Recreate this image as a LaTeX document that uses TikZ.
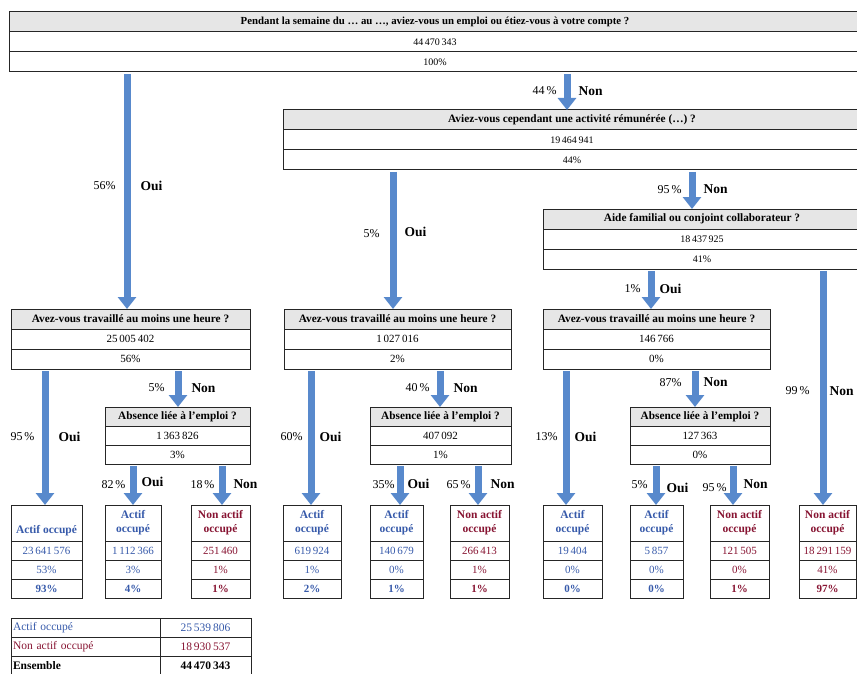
\documentclass[tikz,border=0pt]{standalone}
\usepackage{fontspec}
\setmainfont{Liberation Serif}
\usetikzlibrary{positioning,arrows.meta}

\definecolor{headgray}{RGB}{230,230,230}
\definecolor{flowblue}{RGB}{88,137,204}
\definecolor{actblue}{RGB}{55,90,170}
\definecolor{nonred}{RGB}{135,20,50}

% three-row question box: name, x, y, width, row height, question, count, share
\newcommand{\qbox}[8]{%
  \node[qhead,minimum width=#4,minimum height=#5] (#1) at (#2,#3) {#6};
  \node[qrow,minimum width=#4,minimum height=#5,below=0pt of #1] (#1n) {#7};
  \node[qrow,minimum width=#4,minimum height=#5,below=0pt of #1n] (#1p) {#8};
}
% result box: name, x, width, colour, label, count, share, total
\newcommand{\leafbox}[8]{%
  \node[lhead,text=#4,minimum width=#3] (#1) at (#2,505) {#5};
  \node[lrow,text=#4,minimum width=#3,below=0pt of #1] (#1n) {#6};
  \node[lrow,text=#4,minimum width=#3,below=0pt of #1n] (#1p) {#7};
  \node[lrow,text=#4,minimum width=#3,font=\fontsize{11}{12}\selectfont\bfseries,below=0pt of #1p] (#1t) {#8};
}

\begin{document}
\begin{tikzpicture}[x=1pt,y=-1pt,
    cell/.style={draw=black!85,line width=1pt,outer sep=0pt,inner sep=1pt,align=center},
    qhead/.style={cell,fill=headgray,anchor=north west,font=\fontsize{11.3}{12}\selectfont\bfseries},
    qrow/.style={cell,font=\fontsize{10}{11}\selectfont},
    lhead/.style={cell,anchor=north west,minimum height=36pt,font=\fontsize{11.5}{14}\selectfont\bfseries},
    lrow/.style={cell,minimum height=19pt,font=\fontsize{11}{12}\selectfont},
    srow/.style={cell,anchor=north west,minimum height=19pt,font=\fontsize{11.5}{12}\selectfont},
    flow/.style={line width=7pt,draw=flowblue,shorten <=2pt,-{Triangle[width=18pt,length=12pt]}},
    pct/.style={inner sep=1pt,font=\fontsize{12}{14}\selectfont},
    word/.style={inner sep=1pt,font=\fontsize{13.5}{15}\selectfont\bfseries}]
  \useasboundingbox (0,0) rectangle (857,674);

  % questions
  \qbox{q0}{9}{12}{852pt}{20pt}{\fontsize{10.8}{12}\selectfont Pendant la semaine du … au …, aviez-vous un emploi ou étiez-vous à votre compte ?}{44\,470\,343}{100\%}
  \qbox{q1}{283}{110}{578pt}{20pt}{Aviez-vous cependant une activité rémunérée (…) ?}{19\,464\,941}{44\%}
  \qbox{q2}{543}{209}{318pt}{20pt}{Aide familial ou conjoint collaborateur ?}{18\,437\,925}{41\%}
  \tikzset{qrow/.append style={font=\fontsize{11}{12}\selectfont}}
  \qbox{qA}{11}{309}{239pt}{20pt}{Avez-vous travaillé au moins une heure ?}{25\,005\,402}{56\%}
  \qbox{qB}{284}{309}{227pt}{20pt}{Avez-vous travaillé au moins une heure ?}{1\,027\,016}{2\%}
  \qbox{qC}{543}{309}{227pt}{20pt}{Avez-vous travaillé au moins une heure ?}{146\,766}{0\%}
  \qbox{aA}{105}{407}{145pt}{19pt}{Absence liée à l'emploi ?}{1\,363\,826}{3\%}
  \qbox{aB}{370}{407}{141pt}{19pt}{Absence liée à l'emploi ?}{407\,092}{1\%}
  \qbox{aC}{630}{407}{140pt}{19pt}{Absence liée à l'emploi ?}{127\,363}{0\%}

  % results
  \leafbox{r1}{11}{71pt}{actblue}{\strut\\Actif occupé}{23\,641\,576}{53\%}{93\%}
  \leafbox{r2}{105}{56pt}{actblue}{Actif\\occupé}{1\,112\,366}{3\%}{4\%}
  \leafbox{r3}{191}{59pt}{nonred}{Non actif\\occupé}{251\,460}{1\%}{1\%}
  \leafbox{r4}{283}{58pt}{actblue}{Actif\\occupé}{619\,924}{1\%}{2\%}
  \leafbox{r5}{370}{53pt}{actblue}{Actif\\occupé}{140\,679}{0\%}{1\%}
  \leafbox{r6}{450}{59pt}{nonred}{Non actif\\occupé}{266\,413}{1\%}{1\%}
  \leafbox{r7}{543}{59pt}{actblue}{Actif\\occupé}{19\,404}{0\%}{0\%}
  \leafbox{r8}{630}{53pt}{actblue}{Actif\\occupé}{5\,857}{0\%}{0\%}
  \leafbox{r9}{710}{59pt}{nonred}{Non actif\\occupé}{121\,505}{0\%}{1\%}
  \leafbox{r10}{799}{57pt}{nonred}{Non actif\\occupé}{18\,291\,159}{41\%}{97\%}

  % arrows
  \draw[flow] (q0p.south -| 127,0) -- (qA.north -| 127,0) node[midway,pct,left=7pt,yshift=5pt] (l1) {56\%} node[midway,word,right=9pt,yshift=5pt] (w1) {Oui};
  \draw[flow] (q0p.south -| 567,0) -- (q1.north -| 567,0) node[midway,pct,left=6pt] (l2) {44\,\%} node[midway,word,right=7pt] (w2) {Non};
  \draw[flow] (q1p.south -| 393,0) -- (qB.north -| 393,0) node[midway,pct,left=9pt,yshift=6pt] (l3) {5\%} node[midway,word,right=7pt,yshift=8pt] (w3) {Oui};
  \draw[flow] (q1p.south -| 692,0) -- (q2.north -| 692,0) node[midway,pct,left=6pt] (l4) {95\,\%} node[midway,word,right=7pt] (w4) {Non};
  \draw[flow] (q2p.south -| 651,0) -- (qC.north -| 651,0) node[midway,pct,left=6pt] (l5) {1\%} node[midway,word,right=4pt] (w5) {Oui};
  \draw[flow] (q2p.south -| 823,0) -- (r10.north -| 823,0) node[midway,pct,left=9pt,yshift=-4pt] (l6) {99\,\%} node[midway,word,right=2pt,yshift=-4pt] (w6) {Non};

  \draw[flow] (qAp.south -| 45,0) -- (r1.north -| 45,0) node[midway,pct,left=6pt] (l7) {95\,\%} node[midway,word,right=9pt] (w7) {Oui};
  \draw[flow] (qAp.south -| 178,0) -- (aA.north -| 178,0) node[midway,pct,left=9pt] (l8) {5\%} node[midway,word,right=9pt] (w8) {Non};
  \draw[flow] (aAp.south -| 133,0) -- (r2.north -| 133,0) node[midway,pct,left=3pt] (l9) {82\,\%} node[midway,word,right=4pt,yshift=3pt] (w9) {Oui};
  \draw[flow] (aAp.south -| 222,0) -- (r3.north -| 222,0) node[midway,pct,left=3pt] (l10) {18\,\%} node[midway,word,right=7pt] (w10) {Non};

  \draw[flow] (qBp.south -| 311,0) -- (r4.north -| 311,0) node[midway,pct,left=4pt] (l11) {60\%} node[midway,word,right=4pt] (w11) {Oui};
  \draw[flow] (qBp.south -| 440,0) -- (aB.north -| 440,0) node[midway,pct,left=6pt] (l12) {40\,\%} node[midway,word,right=9pt] (w12) {Non};
  \draw[flow] (aBp.south -| 400,0) -- (r5.north -| 400,0) node[midway,pct,left=1pt] (l13) {35\%} node[midway,word,right=3pt,yshift=1pt] (w13) {Oui};
  \draw[flow] (aBp.south -| 478,0) -- (r6.north -| 478,0) node[midway,pct,left=3pt] (l14) {65\,\%} node[midway,word,right=8pt] (w14) {Non};

  \draw[flow] (qCp.south -| 566,0) -- (r7.north -| 566,0) node[midway,pct,left=4pt] (l15) {13\%} node[midway,word,right=4pt] (w15) {Oui};
  \draw[flow] (qCp.south -| 695,0) -- (aC.north -| 695,0) node[midway,pct,left=9pt,yshift=5pt] (l16) {87\%} node[midway,word,right=4pt,yshift=6pt] (w16) {Non};
  \draw[flow] (aCp.south -| 656,0) -- (r8.north -| 656,0) node[midway,pct,left=4pt] (l17) {5\%} node[midway,word,right=6pt,yshift=-3pt] (w17) {Oui};
  \draw[flow] (aCp.south -| 733,0) -- (r9.north -| 733,0) node[midway,pct,left=2pt,yshift=-3pt] (l18) {95\,\%} node[midway,word,right=6pt] (w18) {Non};

  % totals
  \node[srow,minimum width=149pt,text width=145pt,align=left,text=actblue] (sa) at (11,618) {Actif occupé};
  \node[srow,minimum width=91pt,text=actblue] (sav) at (160,618) {25\,539\,806};
  \node[srow,minimum width=149pt,text width=145pt,align=left,text=nonred,below=0pt of sa] (sb) {Non actif occupé};
  \node[srow,minimum width=91pt,text=nonred,below=0pt of sav] (sbv) {18\,930\,537};
  \node[srow,minimum width=149pt,text width=145pt,align=left,font=\fontsize{11.5}{12}\selectfont\bfseries,below=0pt of sb] (sc) {Ensemble};
  \node[srow,minimum width=91pt,font=\fontsize{11.5}{12}\selectfont\bfseries,below=0pt of sbv] (scv) {44\,470\,343};
\end{tikzpicture}
\end{document}
